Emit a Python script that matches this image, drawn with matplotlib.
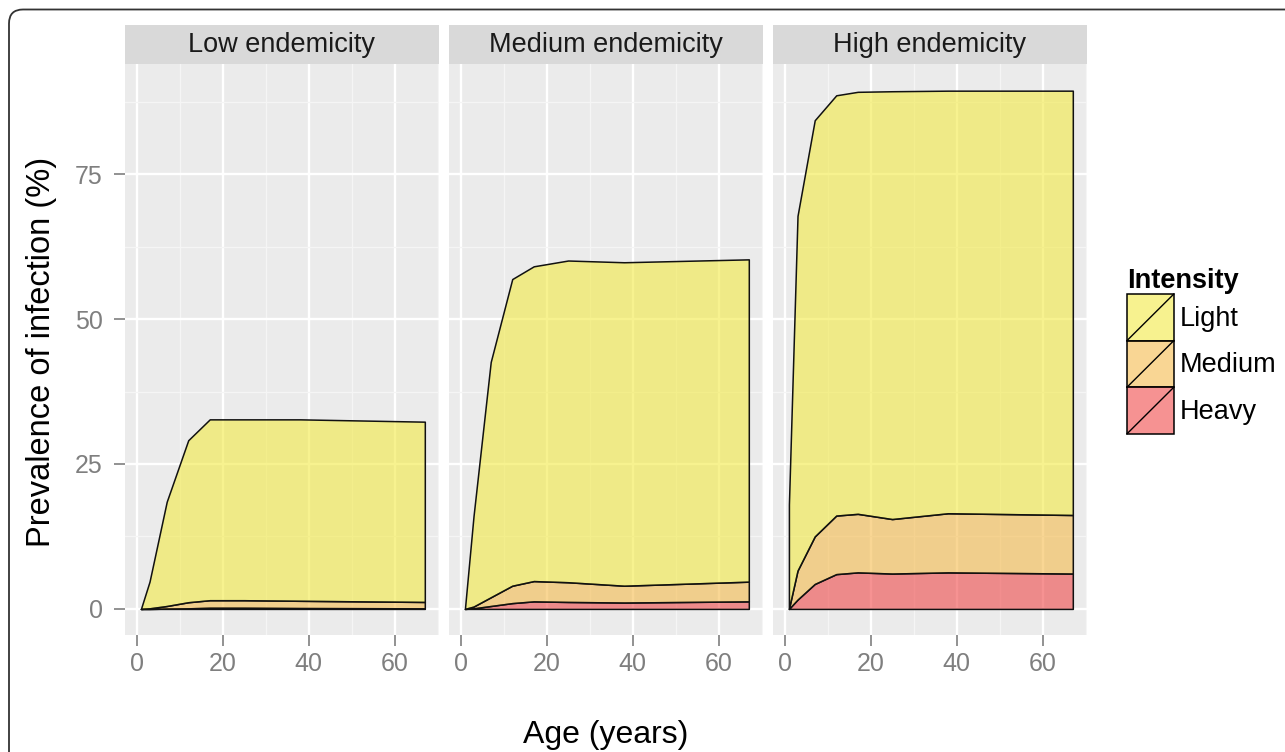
import matplotlib

matplotlib.use("Agg")
import matplotlib.pyplot as plt
from matplotlib.legend_handler import HandlerBase
from matplotlib.lines import Line2D
from matplotlib.patches import FancyBboxPatch, Patch, Rectangle
from matplotlib.transforms import IdentityTransform

plt.rcParams["font.family"] = ["Liberation Sans", "DejaVu Sans"]

# Age points (years) shared by all three endemicity settings
AGES = [1, 3, 7, 12, 17, 25, 38, 67]

PANELS = ["Low endemicity", "Medium endemicity", "High endemicity"]
INTENSITY = ["Light", "Medium", "Heavy"]

# Prevalence (%) contributed by each intensity class, stacked heavy -> light
LOW_LIGHT = [0, 4.6, 18.0, 27.95, 31.2, 31.2, 31.3, 31.1]
LOW_MEDIUM = [0, 0.1, 0.45, 1.05, 1.3, 1.3, 1.25, 1.1]
LOW_HEAVY = [0, 0, 0.05, 0.1, 0.2, 0.2, 0.15, 0.1]

MED_LIGHT = [0, 15.6, 40.6, 52.9, 54.3, 55.5, 55.8, 55.6]
MED_MEDIUM = [0, 0.3, 1.5, 3.0, 3.5, 3.4, 2.9, 3.4]
MED_HEAVY = [0, 0.1, 0.5, 1.0, 1.3, 1.2, 1.1, 1.3]

HIGH_LIGHT = [18.0, 61.2, 71.8, 72.5, 72.8, 73.8, 72.9, 73.2]
HIGH_MEDIUM = [0, 5.0, 8.2, 10.1, 10.1, 9.4, 10.2, 10.1]
HIGH_HEAVY = [0, 1.6, 4.3, 6.0, 6.3, 6.1, 6.3, 6.1]

DATA = [
    (LOW_LIGHT, LOW_MEDIUM, LOW_HEAVY),
    (MED_LIGHT, MED_MEDIUM, MED_HEAVY),
    (HIGH_LIGHT, HIGH_MEDIUM, HIGH_HEAVY),
]

ALPHA = 0.6
COLORS = {"Light": "#F2EA45", "Medium": "#F5BC4D", "Heavy": "#F04A4A"}
PANEL_BG = "#EBEBEB"
STRIP_BG = "#D9D9D9"
TICK_GREY = "#7F7F7F"


def rgba(name):
    return matplotlib.colors.to_rgba(COLORS[name], ALPHA)


class SlashKey(HandlerBase):
    """ggplot-style area key: filled box with a diagonal stroke."""

    def create_artists(self, legend, orig_handle, xdescent, ydescent,
                       width, height, fontsize, trans):
        x0, y0 = -xdescent, -ydescent
        box = Rectangle((x0, y0), width, height, facecolor=orig_handle.get_facecolor(),
                        edgecolor="black", lw=1.1, transform=trans)
        line = Line2D([x0, x0 + width], [y0, y0 + height], color="black",
                      lw=1.0, transform=trans)
        return [box, line]


W, H = 1285, 752
fig = plt.figure(figsize=(W / 100, H / 100), dpi=100)

# rounded outer frame, running off the right and bottom edges
frame = FancyBboxPatch((9, -60), W + 100, H - 9.5 + 60,
                       boxstyle="round,pad=0,rounding_size=14",
                       transform=IdentityTransform(), fill=False,
                       edgecolor="#333333", lw=1.3)
fig.add_artist(frame)

panel_left = [125, 449, 773]
panel_w = 314
panel_top, panel_bottom, strip_top = 64, 635, 25

for i, (title, (light, medium, heavy)) in enumerate(zip(PANELS, DATA)):
    x0 = panel_left[i] / W
    ax = fig.add_axes([x0, 1 - panel_bottom / H, panel_w / W, (panel_bottom - panel_top) / H])
    ax.set_facecolor(PANEL_BG)
    ax.stackplot(AGES, heavy, medium, light,
                 colors=[rgba("Heavy"), rgba("Medium"), rgba("Light")],
                 edgecolor="#111111", linewidth=1.1)
    ax.set_xlim(-2.7, 70.3)
    ax.set_ylim(-4.5, 94)
    ax.set_xticks([0, 20, 40, 60])
    ax.set_xticks([10, 30, 50, 70], minor=True)
    ax.set_yticks([0, 25, 50, 75])
    ax.set_yticks([12.5, 37.5, 62.5, 87.5], minor=True)
    ax.set_axisbelow(True)
    ax.grid(which="major", color="white", lw=1.7)
    ax.grid(which="minor", color="#F5F5F5", lw=0.9)
    for s in ax.spines.values():
        s.set_visible(False)
    ax.tick_params(which="minor", length=0)
    ax.tick_params(axis="x", which="major", length=8, width=1.2, color=TICK_GREY,
                   labelcolor=TICK_GREY, labelsize=18, pad=4)
    ax.tick_params(axis="y", which="major", length=8, width=1.2, color=TICK_GREY,
                   labelcolor=TICK_GREY, labelsize=18, pad=8)
    if i > 0:
        ax.tick_params(axis="y", which="major", length=0, labelleft=False)

    strip = fig.add_axes([x0, 1 - panel_top / H, panel_w / W, (panel_top - strip_top) / H])
    strip.set_facecolor(STRIP_BG)
    strip.set_xticks([])
    strip.set_yticks([])
    for s in strip.spines.values():
        s.set_visible(False)
    strip.text(0.5, 0.5, title, ha="center", va="center", fontsize=19.5,
               color="#1A1A1A", transform=strip.transAxes)

fig.text(42 / W, 1 - 352 / H, "Prevalence of infection (%)", rotation=90,
         ha="center", va="center", fontsize=23.5)
fig.text(606 / W, 1 - 735 / H, "Age (years)", ha="center", va="center", fontsize=23)

handles = [Patch(facecolor=rgba(name), edgecolor="black") for name in INTENSITY]
leg = fig.legend(handles, INTENSITY, handler_map={Patch: SlashKey()},
                 loc="upper left", bbox_to_anchor=(1127 / W, 1 - 268 / H),
                 frameon=False, fontsize=19.5, title="Intensity",
                 title_fontproperties={"weight": "bold", "size": 19.5},
                 alignment="left", borderpad=0, borderaxespad=0,
                 labelspacing=0, handlelength=1.73, handleheight=2.27,
                 handletextpad=0.22)

fig.savefig("out.png", dpi=100)
